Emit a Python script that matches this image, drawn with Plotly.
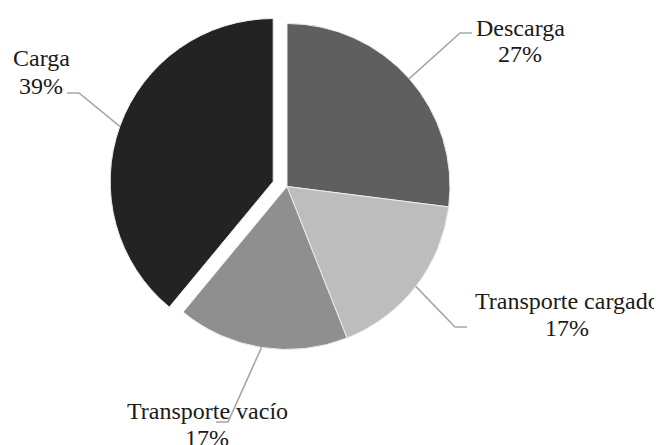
import math
import plotly.graph_objects as go

# ---- data ----
labels = ["Descarga", "Transporte cargado", "Transporte vacío", "Carga"]
values = [27, 17, 17, 39]
pct_labels = ["27%", "17%", "17%", "39%"]

# ---- styles ----
colors = ["#5f5f5f", "#bdbdbd", "#8f8f8f", "#232323"]
pulls = [0, 0, 0, 0.09]

VW, VH = 662, 445          # browser window
OFF = 8                    # default body margin of the page
W, H = VW - OFF, VH - OFF  # figure size
CX, CY, R = 287, 186.5, 163  # pie centre / radius in window px (layout)

# label layout in window px (text centre x, name line y, pct line y, elbow, tail end)
label_text_x = [520, 567, 207, 41]
label_name_y = [28, 301, 411, 58]
label_pct_y = [54, 328, 438, 86]
elbow_x = [460, 455, 228, 79]
elbow_y = [33, 327, 422, 93]
tail_x = [472, 467, 216, 67]

FONT = dict(family="Times New Roman, Liberation Serif, Tinos, DejaVu Serif, serif",
            size=24, color="#1a1a1a")

def px_x(x):
    return (x - OFF) / W

def px_y(y):
    return 1 - (y - OFF) / H

def clamp(v):
    return max(0.0, min(1.0, v))

maxpull = max(pulls)
box = 2 * R * (1 + maxpull)

fig = go.Figure(go.Pie(
    labels=labels,
    values=values,
    sort=False,
    direction="clockwise",
    rotation=0,
    pull=pulls,
    textinfo="none",
    hoverinfo="label+percent",
    marker=dict(colors=colors, line=dict(color="#ededed", width=1)),
    showlegend=False,
    domain=dict(x=[clamp(px_x(CX - box / 2)), clamp(px_x(CX + box / 2))],
                y=[clamp(px_y(CY + box / 2)), clamp(px_y(CY - box / 2))]),
))

total = sum(values)
cum = 0
shapes = []
annotations = []
for i, v in enumerate(values):
    mid = (cum + v / 2) / total * 2 * math.pi
    cum += v
    sx, sy = math.sin(mid), -math.cos(mid)
    ox, oy = CX + sx * pulls[i] * R, CY + sy * pulls[i] * R
    ex, ey = ox + sx * R, oy + sy * R
    path = "M {:.4f},{:.4f} L {:.4f},{:.4f} L {:.4f},{:.4f}".format(
        px_x(ex), px_y(ey), px_x(elbow_x[i]), px_y(elbow_y[i]),
        px_x(tail_x[i]), px_y(elbow_y[i]))
    shapes.append(dict(type="path", path=path, xref="paper", yref="paper",
                       line=dict(color="#a6a6a6", width=1.6)))
    annotations.append(dict(text=labels[i], x=px_x(label_text_x[i]), y=px_y(label_name_y[i]),
                            xref="paper", yref="paper", xanchor="center", yanchor="middle",
                            showarrow=False, font=FONT))
    annotations.append(dict(text=pct_labels[i], x=px_x(label_text_x[i]), y=px_y(label_pct_y[i]),
                            xref="paper", yref="paper", xanchor="center", yanchor="middle",
                            showarrow=False, font=FONT))

fig.update_layout(
    width=W, height=H,
    margin=dict(l=0, r=0, t=0, b=0),
    paper_bgcolor="white",
    plot_bgcolor="white",
    font=FONT,
    shapes=shapes,
    annotations=annotations,
)

fig.write_html("out.html")
